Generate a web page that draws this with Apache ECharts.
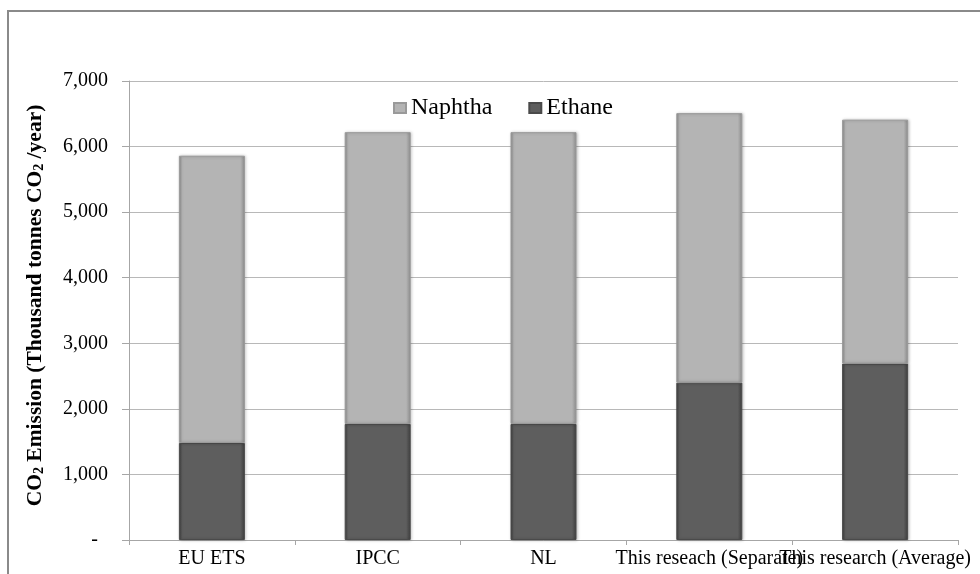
<!DOCTYPE html>
<html>
<head>
<meta charset="utf-8">
<script src="https://cdn.jsdelivr.net/npm/echarts@6/dist/echarts.min.js"></script>
<style>
  html, body { margin: 0; padding: 0; background: #ffffff; }
  #chart { width: 980px; height: 574px; }
</style>
</head>
<body>
<div id="chart"></div>
<script>
// Categories and stacked values (thousand tonnes CO2 per year)
const categories = ['EU ETS', 'IPCC', 'NL', 'This reseach (Separate)', 'This research (Average)'];
const ethane = [1480, 1770, 1770, 2400, 2690];
const naphtha = [4380, 4450, 4450, 4110, 3720];
const yTicks = [0, 1000, 2000, 3000, 4000, 5000, 6000, 7000];

const serif = 'Liberation Serif';

function bevel(base, edge) {
  return {
    type: 'linear', x: 0, y: 0, x2: 1, y2: 0,
    colorStops: [
      { offset: 0, color: edge },
      { offset: 0.05, color: base },
      { offset: 0.93, color: base },
      { offset: 1, color: edge }
    ]
  };
}

const chart = echarts.init(document.getElementById('chart'), null, { renderer: 'canvas' });

chart.setOption({
  animation: false,
  backgroundColor: '#ffffff',
  textStyle: { fontFamily: serif },
  graphic: [{
    type: 'rect',
    shape: { x: 8, y: 11, width: 1000, height: 600 },
    style: { fill: 'none', stroke: '#8a8a8a', lineWidth: 2 },
    silent: true
  }],
  grid: { left: 129, right: 22, top: 81, bottom: 34 },
  legend: {
    data: ['Naphtha', 'Ethane'],
    left: 388,
    top: 91,
    icon: 'rect',
    itemWidth: 12,
    itemHeight: 10,
    itemGap: 36,
    textStyle: { fontFamily: serif, fontSize: 24, color: '#000' }
  },
  xAxis: {
    type: 'category',
    data: categories,
    axisLine: { lineStyle: { color: '#a6a6a6', width: 1 } },
    axisTick: { show: true, length: 5, lineStyle: { color: '#a6a6a6' } },
    axisLabel: { fontFamily: serif, fontSize: 20, color: '#000', margin: 9, interval: 0 }
  },
  yAxis: {
    type: 'value',
    min: yTicks[0],
    max: yTicks[yTicks.length - 1],
    interval: 1000,
    name: '{b|CO}{s|2}{b| Emission (Thousand tonnes CO}{s|2}{b| /year)}',
    nameLocation: 'middle',
    nameGap: 83,
    nameTextStyle: {
      padding: [0, 0, 0, 10],
      rich: {
        b: { fontFamily: serif, fontSize: 21.5, fontWeight: 'bold', color: '#000', verticalAlign: 'bottom', lineHeight: 25 },
        s: { fontFamily: serif, fontSize: 14, fontWeight: 'bold', color: '#000', verticalAlign: 'bottom', lineHeight: 19 }
      }
    },
    axisLine: { show: true, lineStyle: { color: '#a6a6a6', width: 1 } },
    axisTick: { show: true, inside: false, length: 7, lineStyle: { color: '#a6a6a6' } },
    splitLine: { show: true, lineStyle: { color: '#b8b8b8', width: 1 } },
    axisLabel: {
      fontFamily: serif, fontSize: 20, color: '#000', margin: 21,
      formatter: v => v === 0 ? '-\u00a0\u00a0' : v.toLocaleString('en-US')
    }
  },
  series: [
    {
      name: 'Ethane',
      type: 'bar',
      stack: 'total',
      barWidth: 66,
      data: ethane,
      itemStyle: {
        color: bevel('#5e5e5e', '#3e3e3e'),
        borderColor: '#4a4a4a',
        borderWidth: 1,
        shadowColor: 'rgba(0,0,0,0.25)',
        shadowBlur: 3,
        shadowOffsetX: 1
      }
    },
    {
      name: 'Naphtha',
      type: 'bar',
      stack: 'total',
      barWidth: 66,
      data: naphtha,
      itemStyle: {
        color: bevel('#b4b4b4', '#8e8e8e'),
        borderColor: '#9a9a9a',
        borderWidth: 1,
        shadowColor: 'rgba(0,0,0,0.25)',
        shadowBlur: 3,
        shadowOffsetX: 1
      }
    }
  ]
});
</script>
</body>
</html>
